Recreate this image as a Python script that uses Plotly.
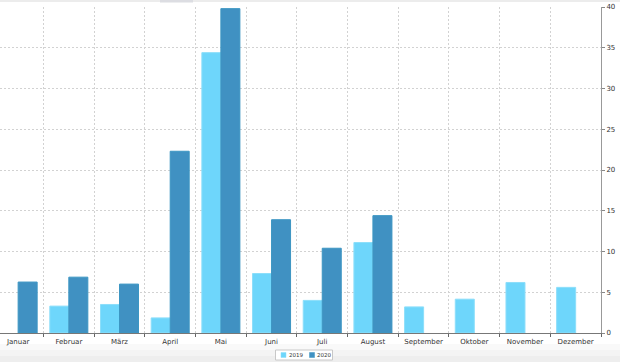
import plotly.graph_objects as go

months = ["Januar", "Februar", "März", "April", "Mai", "Juni", "Juli",
          "August", "September", "Oktober", "November", "Dezember"]
series_names = ["2019", "2020"]
values_2019 = [None, 3.3, 3.5, 1.85, 34.4, 7.3, 4.0, 11.1, 3.2, 4.15, 6.2, 5.6]
values_2020 = [6.25, 6.85, 6.0, 22.3, 39.8, 13.9, 10.4, 14.4, None, None, None, None]
y_ticks = [0, 5, 10, 15, 20, 25, 30, 35, 40]

fill_2019 = "rgb(110,214,251)"
line_2019 = "rgb(140,222,250)"
fill_2020 = "rgb(64,145,194)"
line_2020 = "rgb(60,150,195)"

W, H = 620, 362
PL, PR, PT, PB = 0, 601, 7, 333  # plot area in pixels


def px(x):
    return (x - PL) / (PR - PL)


def py(y):
    return (PB - y) / (PB - PT)


fig = go.Figure()
fig.add_trace(go.Bar(x=months, y=values_2019, name=series_names[0],
                     marker=dict(color=fill_2019, line=dict(color=line_2019, width=1))))
fig.add_trace(go.Bar(x=months, y=values_2020, name=series_names[1],
                     marker=dict(color=fill_2020, line=dict(color=line_2020, width=1))))

cat_w = 608 / 12.0
left_range = -0.5 + 7.2 / cat_w

shapes = []
# bottom light band
bands = [(344, 350, "#f9f9f9"), (350, 356, "#f4f4f4"), (356, 362, "#eeeeee")]
for y0, y1, c in bands:
    shapes.append(dict(type="rect", xref="paper", yref="paper", x0=px(0), x1=px(W),
                       y0=py(y1), y1=py(y0), fillcolor=c, line=dict(width=0), layer="below"))
# top strip
shapes.append(dict(type="rect", xref="paper", yref="paper", x0=px(0), x1=px(W),
                   y0=py(2), y1=py(0), fillcolor="#ececec", line=dict(width=0)))
shapes.append(dict(type="rect", xref="paper", yref="paper", x0=px(160), x1=px(193),
                   y0=py(2.5), y1=py(0), fillcolor="#dcdde2", line=dict(width=0)))
# custom legend box
shapes.append(dict(type="rect", xref="paper", yref="paper", x0=px(275.5), x1=px(332.5),
                   y0=py(360), y1=py(350), fillcolor="white",
                   line=dict(color="#c8c8c8", width=1)))
shapes.append(dict(type="rect", xref="paper", yref="paper", x0=px(281), x1=px(286),
                   y0=py(357.5), y1=py(352.5), fillcolor=fill_2019,
                   line=dict(color=line_2019, width=0.5)))
shapes.append(dict(type="rect", xref="paper", yref="paper", x0=px(309.5), x1=px(314.5),
                   y0=py(357.5), y1=py(352.5), fillcolor=fill_2020,
                   line=dict(color=line_2020, width=0.5)))

annotations = [
    dict(x=px(295.5), y=py(355), xref="paper", yref="paper", text=series_names[0],
         showarrow=False, font=dict(size=5.5, color="#333", family="DejaVu Sans"),
         xanchor="center", yanchor="middle"),
    dict(x=px(323.5), y=py(355), xref="paper", yref="paper", text=series_names[1],
         showarrow=False, font=dict(size=5.5, color="#333", family="DejaVu Sans"),
         xanchor="center", yanchor="middle"),
]

fig.update_layout(
    width=W, height=H, autosize=False,
    margin=dict(l=PL, r=W - PR, t=PT, b=H - PB),
    paper_bgcolor="white", plot_bgcolor="white",
    barmode="group", bargap=0.25, bargroupgap=0,
    showlegend=False,
    font=dict(family="DejaVu Sans", size=7, color="#333"),
    shapes=shapes, annotations=annotations,
    xaxis=dict(
        type="category", range=[left_range, 11.5],
        tickson="boundaries", ticks="outside", ticklen=3, tickcolor="#666",
        showline=True, linecolor="#777", linewidth=1,
        showgrid=True, gridcolor="#d2d2d2", griddash="2px,2px", gridwidth=1,
        tickfont=dict(size=7, color="#333"), fixedrange=True,
        ticklabelstandoff=2,
    ),
    yaxis=dict(
        side="right", range=[0, 40], tickvals=y_ticks,
        ticks="outside", ticklen=3, tickcolor="#888",
        showline=True, linecolor="#999", linewidth=1,
        showgrid=True, gridcolor="#d2d2d2", griddash="2px,2px", gridwidth=1,
        zeroline=False, tickfont=dict(size=7, color="#333"), fixedrange=True,
    ),
)

fig.write_html("out.html", config={"displayModeBar": False},
               post_script="document.body.style.margin='0';document.body.style.overflow='hidden';")
